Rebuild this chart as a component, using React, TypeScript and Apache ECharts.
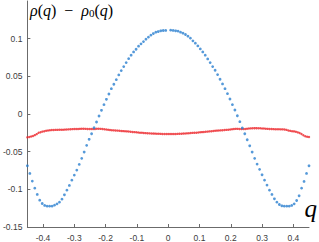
import React, { useEffect, useRef } from "react";
import * as echarts from "echarts";

const Q_MIN = -0.45;
const Q_MAX = 0.45;
const X_TICKS = [-0.4, -0.3, -0.2, -0.1, 0, 0.1, 0.2, 0.3, 0.4];
const Y_TICKS = [-0.15, -0.1, -0.05, 0, 0.05, 0.1];

// blue series, left half (q < 0)
const blueLeft = [
  -0.0688, -0.0789, -0.0891, -0.0984, -0.1068, -0.1144, -0.1188, -0.1214, -0.1223, -0.1223,
  -0.1223, -0.121, -0.1193, -0.117, -0.113, -0.1073, -0.1011, -0.0948, -0.0878, -0.0811,
  -0.0745, -0.0669, -0.0589, -0.0505, -0.0416, -0.0336, -0.0262, -0.0182, -0.0106, -0.0027,
  0.0049, 0.0124, 0.0195, 0.0266, 0.0336, 0.0395, 0.0456, 0.0519, 0.0576, 0.0629,
  0.0682, 0.0735, 0.0781, 0.0824, 0.086, 0.09, 0.0931, 0.0961, 0.0993, 0.102,
  0.1047, 0.1068, 0.1086, 0.1094, 0.1104, 0.1108, 0.1109,
];
// blue series, right half (q > 0)
const blueRight = [
  0.1113, 0.1109, 0.1104, 0.11, 0.1086, 0.1073, 0.1055, 0.1033, 0.1007, 0.0971,
  0.094, 0.0904, 0.0864, 0.0824, 0.0781, 0.0731, 0.0682, 0.0629, 0.0581, 0.0523,
  0.0461, 0.0399, 0.0336, 0.027, 0.0199, 0.0124, 0.0053, -0.0023, -0.0102, -0.0186,
  -0.0262, -0.0342, -0.0422, -0.0505, -0.0589, -0.0665, -0.0735, -0.0807, -0.0878, -0.0944,
  -0.1011, -0.1068, -0.1126, -0.117, -0.1201, -0.1219, -0.1223, -0.1223, -0.1223, -0.1214,
  -0.1193, -0.1148, -0.1086, -0.0984, -0.0895, -0.0789, -0.0688,
];

// red series, evenly sampled over [-0.45, 0.45]
const redValues = [
  -0.031, -0.0305, -0.0299, -0.0292, -0.028, -0.0267, -0.025, -0.0242, -0.0234, -0.0228,
  -0.0223, -0.0219, -0.0216, -0.0213, -0.0212, -0.0211, -0.0211, -0.021, -0.0209, -0.0208,
  -0.0207, -0.0205, -0.0204, -0.0202, -0.0201, -0.02, -0.0199, -0.0198, -0.0197, -0.0196,
  -0.0196, -0.0197, -0.0198, -0.0199, -0.02, -0.02, -0.0198, -0.0196, -0.0195, -0.0197,
  -0.02, -0.0203, -0.0206, -0.0209, -0.0212, -0.0215, -0.0217, -0.0219, -0.0221, -0.0223,
  -0.0225, -0.0227, -0.0229, -0.0231, -0.0233, -0.0235, -0.0238, -0.0241, -0.0243, -0.0246,
  -0.0248, -0.025, -0.0252, -0.0254, -0.0256, -0.0257, -0.0258, -0.026, -0.0261, -0.0262,
  -0.0263, -0.0264, -0.0265, -0.0265, -0.0266, -0.0266, -0.0266, -0.0266, -0.0265, -0.0265,
  -0.0264, -0.0263, -0.0262, -0.026, -0.0258, -0.0257, -0.0255, -0.0253, -0.0251, -0.025,
  -0.0248, -0.0246, -0.0243, -0.0241, -0.0238, -0.0236, -0.0234, -0.0231, -0.0229, -0.0226,
  -0.0223, -0.0221, -0.0219, -0.0217, -0.0215, -0.0213, -0.0211, -0.0208, -0.0205, -0.0202,
  -0.0199, -0.0197, -0.0197, -0.0198, -0.0199, -0.0199, -0.0198, -0.0196, -0.0193, -0.0191,
  -0.0189, -0.0188, -0.0188, -0.0189, -0.019, -0.0192, -0.0193, -0.0195, -0.0197, -0.0199,
  -0.02, -0.0201, -0.0202, -0.0203, -0.0203, -0.0204, -0.0204, -0.0206, -0.0211, -0.0218,
  -0.0224, -0.0228, -0.0231, -0.0236, -0.0244, -0.0252, -0.0265, -0.0282, -0.0295, -0.0301,
  -0.0306,
];

function toPairs(values: (number | null)[]) {
  const step = (Q_MAX - Q_MIN) / (values.length - 1);
  const out: [number, number][] = [];
  values.forEach((v, i) => {
    if (v !== null) out.push([Q_MIN + i * step, v]);
  });
  return out;
}

export default function App() {
  const ref = useRef<HTMLDivElement>(null);
  useEffect(() => {
    if (!ref.current) return;
    const chart = echarts.init(ref.current, undefined, { renderer: "svg" });
    const blueValues: (number | null)[] = [...blueLeft, null, ...blueRight];
    const axisColor = "#6b6b6b";
    const labelColor = "#3c3c3c";
    chart.setOption({
      animation: false,
      backgroundColor: "#ffffff",
      grid: { left: 24, right: 10, top: 1, bottom: 15, containLabel: false },
      xAxis: {
        type: "value",
        min: Q_MIN,
        max: Q_MAX,
        axisLine: { show: true, onZero: false, lineStyle: { color: axisColor, width: 1 } },
        axisTick: { show: true, inside: true, length: 3, customValues: X_TICKS, lineStyle: { color: axisColor } },
        axisLabel: {
          customValues: X_TICKS,
          color: labelColor,
          fontSize: 8.5,
          fontFamily: "Liberation Sans",
          margin: 6,
          formatter: (v: number) => String(Math.round(v * 10) / 10),
        },
        splitLine: { show: false },
      },
      yAxis: {
        type: "value",
        min: -0.15,
        max: 0.15,
        interval: 0.05,
        axisLine: { show: true, onZero: false, lineStyle: { color: axisColor, width: 1 } },
        axisTick: { show: true, inside: true, length: 3, customValues: Y_TICKS, lineStyle: { color: axisColor } },
        axisLabel: {
          customValues: Y_TICKS,
          color: labelColor,
          fontSize: 8.5,
          fontFamily: "Liberation Sans",
          margin: 5,
          formatter: (v: number) => String(Math.round(v * 100) / 100),
        },
        splitLine: { show: false },
      },
      graphic: [
        {
          type: "text",
          left: 30,
          top: 2,
          style: {
            text: "{i|ρ}{a|(}{i|q}{a|)  −  }{i|ρ}{s|0}{a|(}{i|q}{a|)}",
            rich: {
              i: { font: "italic 16px 'Liberation Serif'", lineHeight: 19, verticalAlign: "bottom", fill: "#000" },
              a: { font: "16px 'Liberation Serif'", lineHeight: 19, verticalAlign: "bottom", fill: "#000" },
              s: { font: "11px 'Liberation Serif'", lineHeight: 10, verticalAlign: "bottom", fill: "#000" },
            },
          },
        },
        {
          type: "text",
          right: 2,
          top: 196,
          style: { text: "q", font: "italic 25px 'Liberation Serif'", fill: "#000" },
        },
      ],
      series: [
        {
          type: "scatter",
          data: toPairs(redValues),
          symbol: "circle",
          symbolSize: 2.4,
          itemStyle: { color: "#ec2328" },
          silent: true,
        },
        {
          type: "scatter",
          data: toPairs(blueValues),
          symbol: "circle",
          symbolSize: 2.8,
          itemStyle: { color: "#2a7fcf" },
          silent: true,
        },
      ],
    });
    return () => chart.dispose();
  }, []);
  return <div ref={ref} style={{ position: "fixed", left: 0, top: 0, width: 319, height: 242 }} />;
}
